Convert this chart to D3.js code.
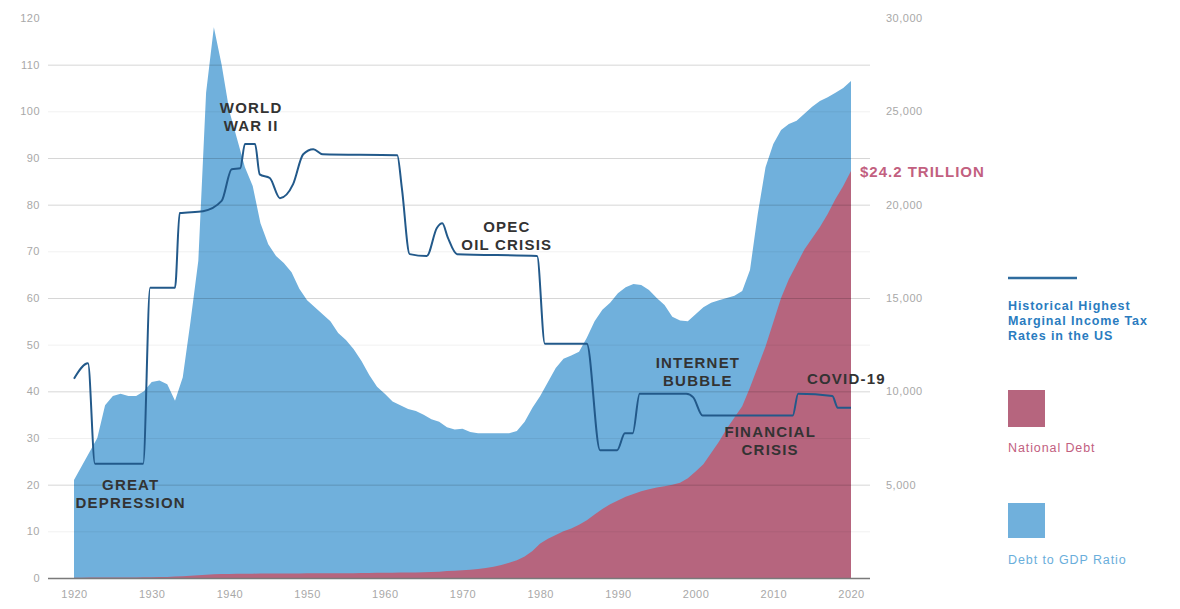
<!DOCTYPE html>
<html>
<head>
<meta charset="utf-8">
<script src="https://cdn.jsdelivr.net/npm/d3@7"></script>
<style>
  body { margin: 0; background: #fff; }
  svg { font-family: "Liberation Sans", Arial, sans-serif; }
  .tick-lbl { fill: #a8a8a8; font-size: 11px; letter-spacing: 0.5px; }
  .note { fill: #333; font-size: 15px; font-weight: bold; letter-spacing: 1.2px; text-anchor: middle; }
</style>
</head>
<body>
<svg id="chart" width="1180" height="609"></svg>
<script>
// years on the x axis
var years = d3.range(1920, 2021);
var yearTicks = d3.range(1920, 2021, 10);

// Debt to GDP ratio, % (left axis)
var debtToGdp = [21, 24, 27, 30, 37, 39, 39.5, 39, 39, 40,
  42, 42.3, 41.5, 38, 43, 55, 68, 104, 118, 110,
  100, 94, 88, 84, 76, 71.5, 69, 67.5, 65.5, 62,
  59.5, 58, 56.5, 55, 52.5, 51, 49, 46.5, 43.5, 41,
  39.5, 37.8, 37, 36.2, 35.8, 35, 34, 33.5, 32.3, 31.8,
  32, 31.3, 31, 31, 31, 31, 31, 31.5, 33.5, 36.5,
  39, 42, 45, 47, 47.7, 48.5, 51.5, 55, 57.5, 59,
  61, 62.3, 63, 62.8, 61.7, 60, 58.5, 56, 55.2, 55,
  56.5, 58, 59, 59.5, 60, 60.5, 61.5, 66, 78, 88,
  93, 96, 97.3, 98, 99.5, 101, 102.2, 103, 104, 105,
  106.5];

// National debt, billions USD (right axis)
var nationalDebt = [20, 20, 22, 22, 25, 25, 28, 30, 32, 35,
  40, 50, 60, 80, 100, 120, 150, 180, 200, 210,
  220, 230, 232, 234, 236, 238, 240, 242, 244, 246,
  248, 250, 252, 254, 256, 258, 260, 265, 270, 275,
  280, 285, 290, 295, 300, 305, 320, 340, 370, 390,
  420, 440, 480, 530, 600, 700, 820, 950, 1150, 1450,
  1850, 2100, 2300, 2500, 2650, 2850, 3100, 3400, 3700, 3950,
  4150, 4350, 4500, 4650, 4750, 4850, 4920, 5000, 5100, 5350,
  5700, 6100, 6700, 7300, 8000, 8600, 9200, 10200, 11300, 12400,
  13700, 15000, 16000, 16800, 17600, 18200, 18800, 19500, 20300, 21000,
  21800];

// Historical highest marginal income tax rate, % (left axis)
var taxYears = [1920, 1921.8, 1922.7, 1928.9, 1929.8, 1933.0, 1933.6, 1936.6, 1939.0, 1940.3,
  1941.4, 1942.0, 1943.3, 1943.9, 1945.2, 1946.5, 1948.2, 1949.5, 1950.8, 1952.0,
  1961.6, 1962.2, 1963.2, 1965.4, 1966.7, 1967.4, 1968.1, 1969.3, 1979.6, 1980.6,
  1986.0, 1987.7, 1989.9, 1990.9, 1991.9, 1992.8, 1998.8, 1999.7, 2000.9, 2012.5,
  2013.2, 2017.6, 2018.3, 2020];
var taxRates = [42.7, 46, 24.5, 24.5, 62.2, 62.2, 78.2, 78.6, 80.8, 87.6,
  87.8, 93, 93, 86.5, 85.7, 81.4, 84.4, 90.8, 91.9, 90.8,
  90.6, 83.5, 69.4, 69, 75, 76, 73, 69.4, 69, 50.2,
  50.2, 27.4, 27.4, 31, 31, 39.5, 39.5, 38.7, 34.8, 34.8,
  39.5, 39, 36.5, 36.5];

var leftTicks = d3.range(0, 121, 10);
var rightTicks = [5000, 10000, 15000, 20000, 25000, 30000];

var events = [
  { lines: ["GREAT", "DEPRESSION"], year: 1927.3, value: 18.9 },
  { lines: ["WORLD", "WAR II"], year: 1942.8, value: 99.6 },
  { lines: ["OPEC", "OIL CRISIS"], year: 1975.7, value: 74.1 },
  { lines: ["INTERNET", "BUBBLE"], year: 2000.3, value: 45 },
  { lines: ["FINANCIAL", "CRISIS"], year: 2009.6, value: 30.2 },
  { lines: ["COVID-19"], year: 2019.4, value: 41.6 }
];

var blue = "#70b0dc", red = "#b6657e", lineCol = "#22598a";

var svg = d3.select("#chart");

var x = d3.scaleLinear().domain([1920, 2020]).range([74, 851]);
var yL = d3.scaleLinear().domain([0, 120]).range([578, 18]);
var yR = d3.scaleLinear().domain([0, 30000]).range([578, 18]);

// areas
var gdpArea = d3.area()
  .x(function (d, i) { return x(years[i]); })
  .y0(yL(0))
  .y1(function (d) { return yL(d); });
svg.append("path").datum(debtToGdp).attr("d", gdpArea).attr("fill", blue);

var debtArea = d3.area()
  .x(function (d, i) { return x(years[i]); })
  .y0(yR(0))
  .y1(function (d) { return yR(d); });
svg.append("path").datum(nationalDebt).attr("d", debtArea).attr("fill", red);

// grid lines (drawn on top, translucent)
var strong = [110, 90, 80, 60, 40, 20];
svg.append("g").selectAll("line")
  .data(leftTicks.filter(function (d) { return d > 0 && d < 120; }))
  .enter().append("line")
  .attr("x1", 48).attr("x2", 870)
  .attr("y1", function (d) { return yL(d) + 0.5; })
  .attr("y2", function (d) { return yL(d) + 0.5; })
  .attr("stroke", "#000")
  .attr("stroke-opacity", function (d) { return strong.indexOf(d) >= 0 ? 0.16 : 0.06; });

svg.append("line")
  .attr("x1", 48).attr("x2", 870)
  .attr("y1", yL(0) + 0.5).attr("y2", yL(0) + 0.5)
  .attr("stroke", "#7a7a7a").attr("stroke-width", 1.5);

// tax line
var taxLine = d3.line()
  .x(function (d, i) { return x(taxYears[i]); })
  .y(function (d) { return yL(d); })
  .curve(d3.curveMonotoneX);
svg.append("path").datum(taxRates)
  .attr("d", taxLine)
  .attr("fill", "none")
  .attr("stroke", lineCol)
  .attr("stroke-width", 2);

// axes labels
var leftAxis = d3.axisLeft(yL).tickValues(leftTicks).tickSize(0).tickPadding(0);
var gl = svg.append("g").attr("transform", "translate(40,0)").call(leftAxis);
gl.select(".domain").remove();
gl.selectAll("text").attr("class", "tick-lbl").attr("fill", null).style("font-size", null);

var rightAxis = d3.axisRight(yR).tickValues(rightTicks).tickSize(0).tickPadding(0)
  .tickFormat(d3.format(","));
var gr = svg.append("g").attr("transform", "translate(886,0)").call(rightAxis);
gr.select(".domain").remove();
gr.selectAll("text").attr("class", "tick-lbl").attr("fill", null);

var bottomAxis = d3.axisBottom(x).tickValues(yearTicks).tickSize(0).tickPadding(0)
  .tickFormat(d3.format("d"));
var gb = svg.append("g").attr("transform", "translate(0,590)").call(bottomAxis);
gb.select(".domain").remove();
gb.selectAll("text").attr("class", "tick-lbl").attr("fill", null);
svg.selectAll(".tick-lbl").attr("font-size", null).attr("font-family", null);
svg.selectAll("g").attr("font-size", null).attr("font-family", null);

// event annotations
events.forEach(function (ev) {
  var t = svg.append("text").attr("class", "note")
    .attr("x", x(ev.year)).attr("y", yL(ev.value));
  ev.lines.forEach(function (l, i) {
    t.append("tspan").attr("x", x(ev.year)).attr("dy", i === 0 ? 0 : 18).text(l);
  });
});

// end value label
svg.append("text")
  .attr("x", x(2020) + 9)
  .attr("y", yR(nationalDebt[nationalDebt.length - 1]) + 6)
  .attr("fill", "#c2607f")
  .style("font-size", "15px").style("font-weight", "bold").style("letter-spacing", "1px")
  .text("$24.2 TRILLION");

// legend
var lg = svg.append("g").attr("transform", "translate(1008,0)");
lg.append("line").attr("x1", 0).attr("x2", 69).attr("y1", 278).attr("y2", 278)
  .attr("stroke", "#2f6c9e").attr("stroke-width", 2.5);
var lt = lg.append("text").attr("y", 310).attr("fill", "#2a7cc0")
  .style("font-size", "12.5px").style("font-weight", "bold").style("letter-spacing", "0.9px");
["Historical Highest", "Marginal Income Tax", "Rates in the US"].forEach(function (s, i) {
  lt.append("tspan").attr("x", 0).attr("dy", i === 0 ? 0 : 15).text(s);
});
lg.append("rect").attr("x", 0).attr("y", 390).attr("width", 37).attr("height", 37).attr("fill", red);
lg.append("text").attr("x", 0).attr("y", 452).attr("fill", "#c2607f")
  .style("font-size", "12.5px").style("letter-spacing", "0.9px").text("National Debt");
lg.append("rect").attr("x", 0).attr("y", 503).attr("width", 37).attr("height", 35).attr("fill", blue);
lg.append("text").attr("x", 0).attr("y", 564).attr("fill", "#6aaedb")
  .style("font-size", "12.5px").style("letter-spacing", "0.9px").text("Debt to GDP Ratio");
</script>
</body>
</html>
